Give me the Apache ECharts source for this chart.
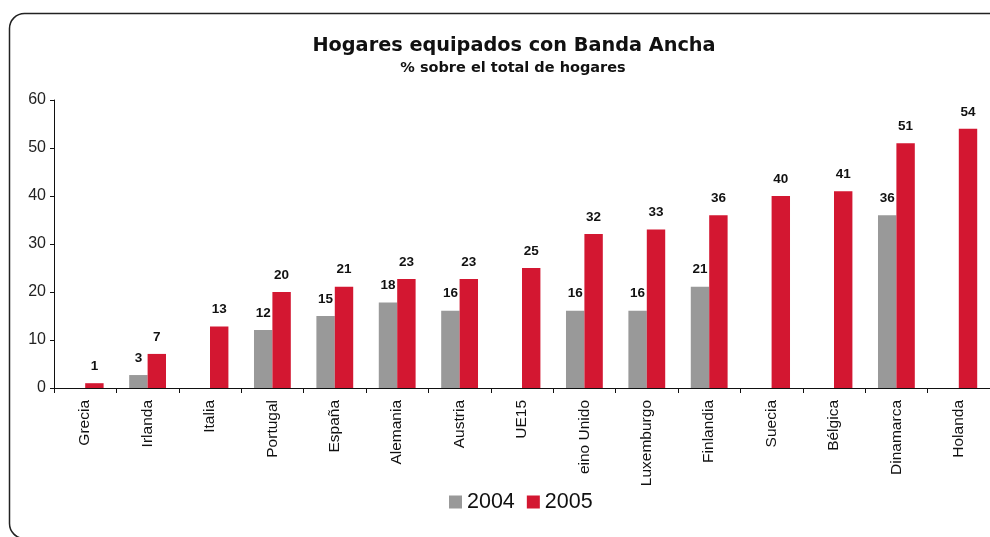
<!DOCTYPE html>
<html>
<head>
<meta charset="utf-8">
<title>Hogares equipados con Banda Ancha</title>
<script src="https://cdn.jsdelivr.net/npm/echarts@6/dist/echarts.min.js"></script>
<style>
    html, body { margin: 0; padding: 0; background: #fff; }
    #chart { width: 990px; height: 537px; }
</style>
</head>
<body>
<div id="chart"></div>
<script>
// datos (% de hogares)
var paises = ['Grecia', 'Irlanda', 'Italia', 'Portugal', 'España', 'Alemania', 'Austria', 'UE15',
              'eino Unido', 'Luxemburgo', 'Finlandia', 'Suecia', 'Bélgica', 'Dinamarca', 'Holanda'];
var datos2004 = [null, 2.7, null, 12.1, 15.0, 17.8, 16.1, null, 16.1, 16.1, 21.1, null, null, 36.0, null];
var datos2005 = [1.0, 7.1, 12.8, 20.0, 21.1, 22.7, 22.7, 25.0, 32.1, 33.0, 36.0, 40.0, 41.0, 51.0, 54.0];
var yTicks = [0, 10, 20, 30, 40, 50, 60];

var dom = document.getElementById('chart');
var myChart = echarts.init(dom);

var fuente = '"Liberation Sans", Arial, sans-serif';

var etiqueta = {
    show: true,
    position: 'top',
    distance: 10,
    fontFamily: fuente,
    fontWeight: 'bold',
    fontSize: 13.5,
    color: '#111',
    formatter: function(p) {
        return Math.round(p.value);
    }
};

var option = {
    animation: false,
    backgroundColor: '#fff',
    title: [{
        text: 'Hogares equipados con Banda Ancha',
        left: 509,
        top: 31,
        textAlign: 'center',
        textStyle: {
            fontFamily: '"DejaVu Sans", sans-serif',
            fontWeight: 'bold',
            fontSize: 19.3,
            color: '#111'
        }
    }, {
        text: '% sobre el total de hogares',
        left: 508,
        top: 56,
        textAlign: 'center',
        textStyle: {
            fontFamily: '"DejaVu Sans", sans-serif',
            fontWeight: 'bold',
            fontSize: 14.5,
            color: '#111'
        }
    }],
    graphic: [{
        type: 'rect',
        z: -10,
        shape: { x: 9.5, y: 13.5, width: 1000, height: 525, r: 15 },
        style: { fill: null, stroke: '#222', lineWidth: 1.5 }
    }],
    legend: {
        left: 444,
        top: 486,
        itemWidth: 13,
        itemHeight: 13,
        itemGap: 12,
        icon: 'rect',
        textStyle: {
            fontFamily: fuente,
            fontSize: 21.5,
            color: '#111'
        },
        data: ['2004', '2005']
    },
    grid: {
        left: 54,
        right: 0,
        top: 100,
        bottom: 149,
        containLabel: false
    },
    xAxis: {
        type: 'category',
        data: paises,
        axisLine: { lineStyle: { color: '#111', width: 1 } },
        axisTick: { show: true, length: 5, interval: 0, lineStyle: { color: '#111' } },
        axisLabel: {
            interval: 0,
            rotate: 90,
            margin: 12,
            fontFamily: fuente,
            fontSize: 15.5,
            color: '#111'
        }
    },
    yAxis: {
        type: 'value',
        min: yTicks[0],
        max: yTicks[yTicks.length - 1],
        interval: 10,
        splitLine: { show: false },
        axisLine: { show: true, lineStyle: { color: '#111', width: 1 } },
        axisTick: { show: true, length: 4, lineStyle: { color: '#111' } },
        axisLabel: {
            margin: 8,
            fontFamily: fuente,
            fontSize: 16,
            color: '#222'
        }
    },
    series: [{
        name: '2004',
        type: 'bar',
        data: datos2004,
        barGap: '0%',
        barCategoryGap: '41%',
        itemStyle: { color: '#999999' },
        label: etiqueta
    }, {
        name: '2005',
        type: 'bar',
        data: datos2005,
        barGap: '0%',
        barCategoryGap: '41%',
        itemStyle: { color: '#d31731' },
        label: etiqueta
    }]
};

myChart.setOption(option);

window.onresize = function() {
    myChart.resize();
};
</script>
</body>
</html>
